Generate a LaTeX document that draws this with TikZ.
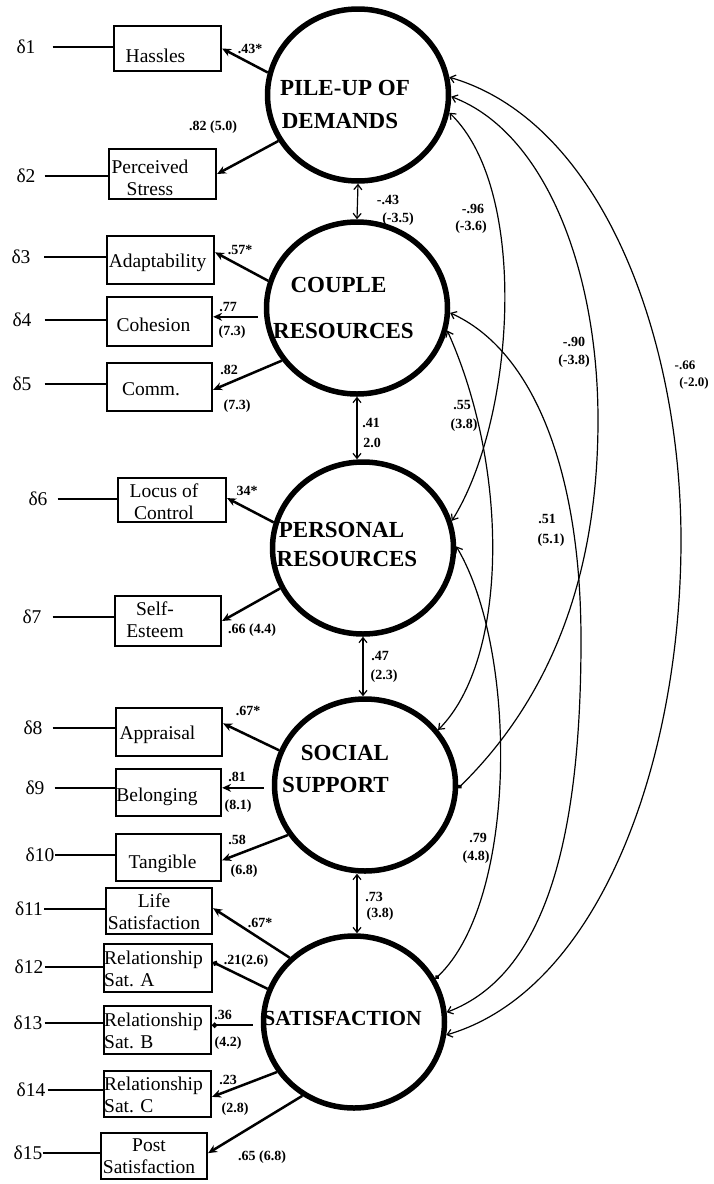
\documentclass[tikz,border=0pt]{standalone}
\usepackage{fontspec}
\setmainfont{Liberation Serif}
\usetikzlibrary{arrows.meta,shapes.geometric}

\begin{document}
\begin{tikzpicture}[x=1pt,y=-1pt,
  latent/.style={draw, ellipse, line width=5.5pt, minimum width=181pt, minimum height=172pt, inner sep=0pt},
  latname/.style={font=\fontsize{23}{26}\selectfont\bfseries, inner sep=0pt},
  indicator/.style={draw, rectangle, line width=2.2pt, inner sep=0pt},
  indtext/.style={font=\fontsize{19.5}{22}\selectfont, align=center, inner sep=0pt},
  indleft/.style={font=\fontsize{19.5}{22}\selectfont, align=left, inner sep=0pt, anchor=west},
  errlab/.style={font=\fontsize{19.5}{22}\selectfont, inner sep=0pt},
  errline/.style={line width=1.3pt},
  load/.style={line width=2.5pt, -{Stealth[length=9pt,width=8pt]}},
  loaddot/.style={line width=2.5pt, -{Circle[length=5pt]}},
  cov/.style={line width=1.2pt, {Straight Barb[length=5pt,width=8pt]}-{Straight Barb[length=5pt,width=8pt]}},
  covdot/.style={line width=1.2pt, {Straight Barb[length=5pt,width=8pt]}-{Circle[length=4.5pt]}},
  coef/.style={font=\fontsize{14}{16}\selectfont\bfseries, inner sep=0pt},
]
\fill[white] (0,0) rectangle (713,1184);
\useasboundingbox (0,0) rectangle (713,1184);

% ---------- latent constructs ----------
\node[latent] (P)   at (358,95)   {};
\node[latent] (C)   at (357,308)  {};
\node[latent] (Pe)  at (363,548)  {};
\node[latent] (S)   at (365,785)  {};
\node[latent] (Sat) at (354,1022) {};

\node[latname] (Pn1)  at (345,88)    {PILE-UP OF};
\node[latname] (Pn2)  at (340,121)   {DEMANDS};
\node[latname] (Cn1)  at (338.5,285) {COUPLE};
\node[latname] (Cn2)  at (343.5,331) {RESOURCES};
\node[latname] (Pen1) at (341.5,530) {PERSONAL};
\node[latname] (Pen2) at (347,559)   {RESOURCES};
\node[latname] (Sn1)  at (345,753)   {SOCIAL};
\node[latname] (Sn2)  at (335.5,785) {SUPPORT};
\node[latname, font=\fontsize{21.5}{24}\selectfont\bfseries] (Satn) at (342.5,1018) {SATISFACTION};

% ---------- indicator boxes ----------
\node[indicator, minimum width=107pt, minimum height=45pt] (b1)  at (167.5,48.5) {};
\node[indicator, minimum width=107pt, minimum height=50pt] (b2)  at (162.5,174)  {};
\node[indicator, minimum width=107pt, minimum height=48pt] (b3)  at (160.5,260)  {};
\node[indicator, minimum width=105pt, minimum height=49pt] (b4)  at (159.5,321.5){};
\node[indicator, minimum width=105pt, minimum height=48pt] (b5)  at (159.5,387)  {};
\node[indicator, minimum width=108pt, minimum height=44pt] (b6)  at (172,500)    {};
\node[indicator, minimum width=106pt, minimum height=50pt] (b7)  at (168,621)    {};
\node[indicator, minimum width=106pt, minimum height=48pt] (b8)  at (169,732)    {};
\node[indicator, minimum width=105pt, minimum height=47pt] (b9)  at (168.5,792.5){};
\node[indicator, minimum width=105pt, minimum height=47pt] (b10) at (168.5,857.5){};
\node[indicator, minimum width=106pt, minimum height=46pt] (b11) at (159,911)    {};
\node[indicator, minimum width=108pt, minimum height=48pt] (b12) at (158,968)    {};
\node[indicator, minimum width=107pt, minimum height=48pt] (b13) at (157.5,1030) {};
\node[indicator, minimum width=107pt, minimum height=46pt] (b14) at (157.5,1094) {};
\node[indicator, minimum width=106pt, minimum height=46pt] (b15) at (154,1156)   {};

\node[indtext] (t1)  at (155.5,55.5) {Hassles};
\node[indtext] (t2)  at (150,178)    {Perceived\\Stress};
\node[indtext] (t3)  at (157.5,263)  {Adaptability};
\node[indtext] (t4)  at (153.5,324.5){Cohesion};
\node[indtext] (t5)  at (151,389)    {Comm.};
\node[indtext] (t6)  at (164,502)    {Locus of\\Control};
\node[indtext] (t7)  at (155,620)    {Self-\\Esteem};
\node[indtext] (t8)  at (157.5,735)  {Appraisal};
\node[indtext] (t9)  at (157,797)    {Belonging};
\node[indtext] (t10) at (162.5,864)  {Tangible};
\node[indtext] (t11) at (154,912)    {Life\\Satisfaction};
\node[indleft] (t12) at (104,969)    {Relationship\\Sat. A};
\node[indleft] (t13) at (104,1031)   {Relationship\\Sat. B};
\node[indleft] (t14) at (104,1095)   {Relationship\\Sat. C};
\node[indtext] (t15) at (149,1156)   {Post\\Satisfaction};

% ---------- error terms ----------
\node[errlab] (d1)  at (26,47)   {δ1};
\node[errlab] (d2)  at (26,176)  {δ2};
\node[errlab] (d3)  at (21,257)  {δ3};
\node[errlab] (d4)  at (22,320)  {δ4};
\node[errlab] (d5)  at (22,384)  {δ5};
\node[errlab] (d6)  at (38,499)  {δ6};
\node[errlab] (d7)  at (32,617)  {δ7};
\node[errlab] (d8)  at (33,728)  {δ8};
\node[errlab] (d9)  at (35,788)  {δ9};
\node[errlab] (d10) at (40,855)  {δ10};
\node[errlab] (d11) at (29,909)  {δ11};
\node[errlab] (d12) at (29,967)  {δ12};
\node[errlab] (d13) at (28,1023) {δ13};
\node[errlab] (d14) at (31,1090) {δ14};
\node[errlab] (d15) at (28,1153) {δ15};

\draw[errline] ([xshift=17pt]d1.east) -- (d1.east -| b1.west);
\draw[errline] ([xshift=9pt]d2.east)  -- (d2.east -| b2.west);
\draw[errline] ([xshift=13.5pt]d3.east) -- (d3.east -| b3.west);
\draw[errline] ([xshift=13pt]d4.east) -- (d4.east -| b4.west);
\draw[errline] ([xshift=13pt]d5.east) -- (d5.east -| b5.west);
\draw[errline] ([xshift=10pt]d6.east) -- (d6.east -| b6.west);
\draw[errline] ([xshift=11pt]d7.east) -- (d7.east -| b7.west);
\draw[errline] ([xshift=10pt]d8.east) -- (d8.east -| b8.west);
\draw[errline] ([xshift=10pt]d9.east) -- (d9.east -| b9.west);
\draw[errline] ([xshift=0.5pt]d10.east) -- (d10.east -| b10.west);
\draw[errline] ([xshift=1pt]d11.east) -- (d11.east -| b11.west);
\draw[errline] ([xshift=1pt]d12.east) -- (d12.east -| b12.west);
\draw[errline] ([xshift=2pt]d13.east) -- (d13.east -| b13.west);
\draw[errline] ([xshift=2pt]d14.east) -- (d14.east -| b14.west);
\draw[errline] (d15.east) -- (d15.east -| b15.west);

% ---------- factor loadings ----------
\draw[load] (P.166) -- (b1.east);
\draw[load] (P.210) -- (b2.east);
\draw[load] (C.163) -- (b3.8);
\draw[load] ([xshift=-6pt]b4.5 -| C.west) -- (b4.5);
\draw[load] (C.215) -- (b5.-3);
\draw[load] (Pe.164) -- (b6.2);
\draw[load] (Pe.206) -- (b7.east);
\draw[load] (S.158) -- (b8.9);
\draw[load] ([xshift=-8pt]b9.5 -| S.west) -- (b9.5);
\draw[load] (S.213) -- (b10.-3);
\draw[load] (Sat.135) -- (b11.3);
\draw[loaddot] (Sat.159) -- (b12.6);
\draw[loaddot] ([xshift=-8pt]b13.5 -| Sat.west) -- (b13.5);
\draw[load] (Sat.213) -- (b14.-3);
\draw[load] (Sat.235) -- (b15.3);

\node[coef] (k1)  at (250,49)   {.43*};
\node[coef] (k2)  at (213,127)  {.82 (5.0)};
\node[coef] (k3)  at (240,250)  {.57*};
\node[coef] (k4a) at (228,307)  {.77};
\node[coef] (k4b) at (232,332)  {(7.3)};
\node[coef] (k5a) at (229,370)  {.82};
\node[coef] (k5b) at (237,406)  {(7.3)};
\node[coef] (k6)  at (247,491)  {34*};
\node[coef] (k7)  at (252,630)  {.66 (4.4)};
\node[coef] (k8)  at (248,711)  {.67*};
\node[coef] (k9a) at (237,777)  {.81};
\node[coef] (k9b) at (238,806)  {(8.1)};
\node[coef] (k10a) at (237,840) {.58};
\node[coef] (k10b) at (244,871) {(6.8)};
\node[coef] (k11) at (260,923)  {.67*};
\node[coef] (k12) at (246,961)  {.21(2.6)};
\node[coef] (k13a) at (223,1015){.36};
\node[coef] (k13b) at (228,1043){(4.2)};
\node[coef] (k14a) at (228,1080){.23};
\node[coef] (k14b) at (235,1109){(2.8)};
\node[coef] (k15) at (262,1157) {.65 (6.8)};

% ---------- correlations between adjacent constructs ----------
\draw[cov] (P.south) -- (C.north);
\draw[cov] (C.south) -- (C.south |- Pe.north);
\draw[cov] (Pe.south) -- (Pe.south |- S.north);
\draw[cov] ([xshift=3pt]Sat.north |- S.south) -- ([xshift=3pt]Sat.north);

\node[coef] (r1a) at (388,200) {-.43};
\node[coef] (r1b) at (398,219) {(-3.5)};
\node[coef] (r2a) at (371,423) {.41};
\node[coef] (r2b) at (372,443) {2.0};
\node[coef] (r3a) at (380,656) {.47};
\node[coef] (r3b) at (384,676) {(2.3)};
\node[coef] (r4a) at (374,897) {.73};
\node[coef] (r4b) at (380,914) {(3.8)};

% ---------- correlations between distant constructs ----------
\draw[cov] (P.11) .. controls (603,122) and (681,340) .. (681,540)
                  .. controls (681,760) and (600,990) .. (Sat.352);
\draw[covdot] (P.359) .. controls (545,132) and (598,270) .. (598,420)
                      .. controls (598,580) and (548,700) .. (S.358);
\draw[cov] (P.349) .. controls (530,190) and (515,420) .. (Pe.17);
\draw[cov] (C.346) .. controls (510,470) and (508,660) .. (S.37);
\draw[cov] (C.357) .. controls (533,350) and (581,470) .. (581,640)
                   .. controls (581,840) and (545,975) .. (Sat.6);
\draw[covdot] (Pe.1) .. controls (518,650) and (518,900) .. (Sat.28);

\node[coef] (r5a)  at (473,209) {-.96};
\node[coef] (r5b)  at (471,227) {(-3.6)};
\node[coef] (r6a)  at (574,342) {-.90};
\node[coef] (r6b)  at (574,361) {(-3.8)};
\node[coef, font=\fontsize{13}{15}\selectfont\bfseries] (r7a)  at (685,365) {-.66};
\node[coef, font=\fontsize{13}{15}\selectfont\bfseries] (r7b)  at (694,383) {(-2.0)};
\node[coef] (r8a)  at (462,405) {.55};
\node[coef] (r8b)  at (464,425) {(3.8)};
\node[coef] (r9a)  at (547,519) {.51};
\node[coef] (r9b)  at (551,540) {(5.1)};
\node[coef] (r10a) at (478,838) {.79};
\node[coef] (r10b) at (476,857) {(4.8)};
\end{tikzpicture}
\end{document}
